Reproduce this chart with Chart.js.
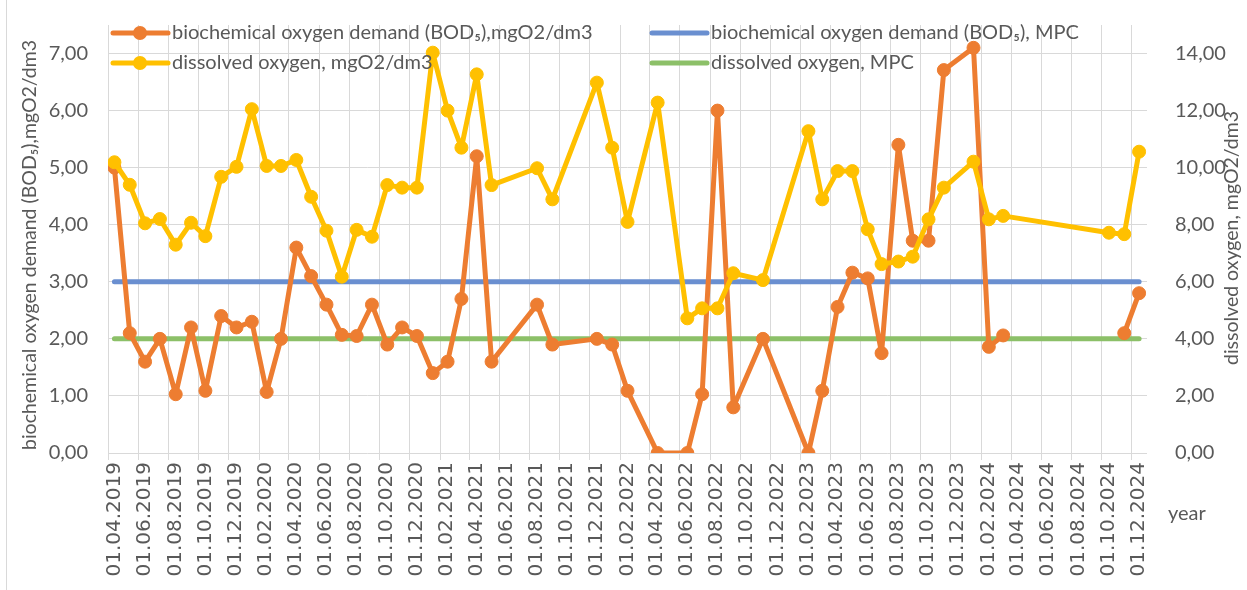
<!DOCTYPE html>
<html>
<head>
<meta charset="utf-8">
<script src="https://cdn.jsdelivr.net/npm/chart.js@4.4.0/dist/chart.umd.min.js"></script>
<style>
  html, body { margin: 0; padding: 0; background: #fff; }
  #wrap { position: relative; width: 1247px; height: 590px; }
  #wrap::before { content: ''; position: absolute; left: 6px; top: 0; bottom: 0; border-left: 1px solid #d9d9d9; }
  canvas { display: block; }
</style>
</head>
<body>
<div id="wrap"><canvas id="chart" width="1247" height="590"></canvas></div>
<script>
// sampling dates (dd.mm.yyyy)
const dates = [
  '14.04.2019', '15.05.2019', '15.06.2019', '15.07.2019', '16.08.2019', '16.09.2019', '15.10.2019', '16.11.2019', '17.12.2019',
  '17.01.2020', '16.02.2020', '16.03.2020', '16.04.2020', '16.05.2020', '16.06.2020', '17.07.2020', '16.08.2020', '16.09.2020', '17.10.2020', '16.11.2020', '16.12.2020',
  '17.01.2021', '16.02.2021', '16.03.2021', '16.04.2021', '16.05.2021', '16.08.2021', '16.09.2021', '15.12.2021',
  '15.01.2022', '15.02.2022', '17.04.2022', '16.06.2022', '16.07.2022', '16.08.2022', '17.09.2022', '16.11.2022',
  '16.02.2023', '16.03.2023', '16.04.2023', '16.05.2023', '16.06.2023', '14.07.2023', '17.08.2023', '15.09.2023', '17.10.2023', '17.11.2023',
  '16.01.2024', '16.02.2024', '16.03.2024', '16.10.2024', '16.11.2024', '16.12.2024'
];

// BOD5, mgO2/dm3 (left axis)
const bod = [
  5.0, 2.1, 1.6, 2.0, 1.03, 2.2, 1.09, 2.4, 2.2,
  2.3, 1.07, 2.0, 3.6, 3.1, 2.6, 2.07, 2.05, 2.6, 1.9, 2.2, 2.05,
  1.4, 1.6, 2.7, 5.2, 1.6, 2.6, 1.9, 2.0,
  1.9, 1.09, 0, 0, 1.03, 6.0, 0.8, 2.0,
  0, 1.09, 2.56, 3.16, 3.06, 1.75, 5.4, 3.72, 3.72, 6.71,
  7.1, 1.86, 2.06, null, 2.1, 2.8
];

// dissolved oxygen, mgO2/dm3 (right axis)
const dox = [
  10.19, 9.4, 8.05, 8.2, 7.3, 8.07, 7.6, 9.68, 10.03,
  12.05, 10.06, 10.06, 10.27, 8.98, 7.79, 6.18, 7.82, 7.58, 9.39, 9.3, 9.3,
  14.03, 12.0, 10.7, 13.27, 9.39, 9.98, 8.89, 12.98,
  10.7, 8.1, 12.28, 4.72, 5.07, 5.07, 6.3, 6.06,
  11.28, 8.89, 9.88, 9.88, 7.84, 6.62, 6.71, 6.88, 8.19, 9.3,
  10.21, 8.19, 8.31, 7.72, 7.67, 10.56
];

// MPC lines
const mpcDates = ['14.04.2019', '16.12.2024'];
const bodMpc = [3, 3];
const doxMpc = [4, 4];

const tickLabels = [
  '01.04.2019', '01.06.2019', '01.08.2019', '01.10.2019', '01.12.2019',
  '01.02.2020', '01.04.2020', '01.06.2020', '01.08.2020', '01.10.2020', '01.12.2020',
  '01.02.2021', '01.04.2021', '01.06.2021', '01.08.2021', '01.10.2021', '01.12.2021',
  '01.02.2022', '01.04.2022', '01.06.2022', '01.08.2022', '01.10.2022', '01.12.2022',
  '01.02.2023', '01.04.2023', '01.06.2023', '01.08.2023', '01.10.2023', '01.12.2023',
  '01.02.2024', '01.04.2024', '01.06.2024', '01.08.2024', '01.10.2024', '01.12.2024'
];

const ORANGE = '#ED7D31';
const YELLOW = '#FFC000';
const BLUE = '#6A8FD0';
const GREEN = '#8CC068';
const TEXT = '#595959';
const GRID = '#d9d9d9';
const FONT = 'Lato, "Noto Sans", sans-serif';

const toDay = s => {
  const [d, m, y] = s.split('.').map(Number);
  return Date.UTC(y, m - 1, d) / 86400000;
};
const series = (ds, vals) => ds.map((d, i) => ({ x: toDay(d), y: vals[i] }));
const fmt = v => v.toFixed(2).replace('.', ',');

const markerLine = (color) => ({
  borderColor: color,
  backgroundColor: color,
  borderWidth: 5,
  pointRadius: 6.5,
  pointBorderWidth: 1,
  pointBorderColor: color,
  pointBackgroundColor: color,
  tension: 0,
  spanGaps: false,
  borderCapStyle: 'round',
  borderJoinStyle: 'round'
});

const flatLine = (color) => ({
  borderColor: color,
  borderWidth: 5,
  pointRadius: 0,
  borderCapStyle: 'round'
});

// legend, axis titles and the "year" label
const legendItems = [
  { text: 'biochemical oxygen demand (BOD\u2085),mgO2/dm3', color: ORANGE, marker: true, x: 113, y: 33 },
  { text: 'biochemical oxygen demand (BOD\u2085), MPC', color: BLUE, marker: false, x: 652, y: 33 },
  { text: 'dissolved oxygen, mgO2/dm3', color: YELLOW, marker: true, x: 113, y: 63 },
  { text: 'dissolved oxygen, MPC', color: GREEN, marker: false, x: 652, y: 63 }
];

const extras = {
  id: 'extras',
  afterDraw(chart) {
    const ctx = chart.ctx;
    ctx.save();
    ctx.font = '20px ' + FONT;
    ctx.fillStyle = TEXT;
    ctx.textBaseline = 'middle';

    legendItems.forEach(it => {
      ctx.strokeStyle = it.color;
      ctx.lineWidth = 5;
      ctx.lineCap = 'round';
      ctx.beginPath();
      ctx.moveTo(it.x, it.y);
      ctx.lineTo(it.x + 55, it.y);
      ctx.stroke();
      if (it.marker) {
        ctx.fillStyle = it.color;
        ctx.beginPath();
        ctx.arc(it.x + 27, it.y, 7, 0, Math.PI * 2);
        ctx.fill();
      }
      ctx.fillStyle = TEXT;
      ctx.textAlign = 'left';
      ctx.fillText(it.text, it.x + 59, it.y);
    });

    ctx.font = '19.5px ' + FONT;
    ctx.textAlign = 'center';
    ctx.save();
    ctx.translate(30, 245);
    ctx.rotate(-Math.PI / 2);
    ctx.fillText('biochemical oxygen demand (BOD\u2085),mgO2/dm3', 0, 0);
    ctx.restore();

    ctx.save();
    ctx.translate(1232, 238);
    ctx.rotate(-Math.PI / 2);
    ctx.fillText('dissolved oxygen, mgO2/dm3', 0, 0);
    ctx.restore();

    ctx.font = '20px ' + FONT;
    ctx.textAlign = 'left';
    ctx.fillText('year', 1168, 514);
    ctx.restore();
  }
};

new Chart(document.getElementById('chart'), {
  type: 'line',
  data: {
    datasets: [
      Object.assign({ label: 'dissolved oxygen, mgO2/dm3', data: series(dates, dox), yAxisID: 'y2' }, markerLine(YELLOW)),
      Object.assign({ label: 'biochemical oxygen demand (BOD\u2085),mgO2/dm3', data: series(dates, bod), yAxisID: 'y' }, markerLine(ORANGE)),
      Object.assign({ label: 'dissolved oxygen, MPC', data: series(mpcDates, doxMpc), yAxisID: 'y2' }, flatLine(GREEN)),
      Object.assign({ label: 'biochemical oxygen demand (BOD\u2085), MPC', data: series(mpcDates, bodMpc), yAxisID: 'y' }, flatLine(BLUE))
    ]
  },
  options: {
    responsive: false,
    animation: false,
    layout: { padding: { top: 25, left: 0, right: 0, bottom: 0 } },
    plugins: {
      legend: { display: false },
      tooltip: { enabled: false }
    },
    scales: {
      x: {
        type: 'linear',
        min: toDay('01.04.2019'),
        max: toDay('01.01.2025'),
        afterBuildTicks: scale => { scale.ticks = tickLabels.map(t => ({ value: toDay(t) })); },
        afterFit: scale => {
          scale.height = 137;
          scale.paddingLeft = 0;
          scale.paddingRight = 0;
        },
        ticks: {
          autoSkip: false,
          minRotation: 90,
          maxRotation: 90,
          padding: 2,
          labelOffset: 7,
          color: TEXT,
          font: { family: '"DejaVu Sans", sans-serif', size: 20 },
          callback: (v, i) => tickLabels[i]
        },
        grid: { color: GRID, tickLength: 7 },
        border: { display: false }
      },
      y: {
        position: 'left',
        min: 0,
        max: 7.5,
        afterFit: scale => {
          scale.width = 108;
          scale.paddingTop = 0;
          scale.paddingBottom = 0;
        },
        ticks: {
          stepSize: 1,
          includeBounds: false,
          padding: 20,
          color: TEXT,
          font: { family: FONT, size: 20 },
          callback: v => fmt(v)
        },
        grid: { color: GRID, drawTicks: false },
        border: { display: false }
      },
      y2: {
        position: 'right',
        min: 0,
        max: 15,
        afterFit: scale => {
          scale.width = 100;
          scale.paddingTop = 0;
          scale.paddingBottom = 0;
        },
        ticks: {
          stepSize: 2,
          includeBounds: false,
          padding: 20,
          color: TEXT,
          font: { family: FONT, size: 20 },
          callback: v => fmt(v)
        },
        grid: { display: false },
        border: { display: false }
      }
    }
  },
  plugins: [extras]
});
</script>
</body>
</html>
